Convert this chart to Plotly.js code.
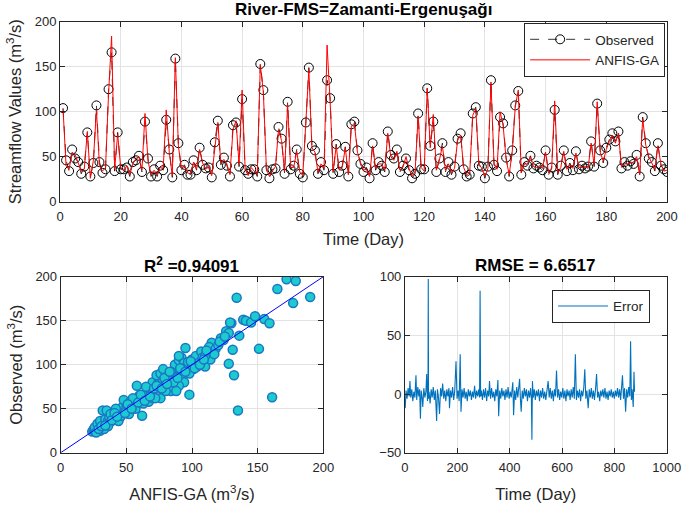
<!DOCTYPE html>
<html>
<head>
<meta charset="utf-8">
<script src="https://cdn.plot.ly/plotly-3.0.1.min.js"></script>
<style>html,body{margin:0;padding:0;background:#fff;}#chart{width:685px;height:506px;}</style>
</head>
<body>
<div id="chart"></div>
<script>
// ---- Top panel: first 200 days ----
const days = Array.from({length: 200}, (_, i) => i + 1);
const observed = [
104,46,34,58,48,44,31,39,77,28,
43,107,44,32,36,125,166,34,77,36,
36,38,28,44,46,51,33,89,48,28,
36,28,40,35,91,58,27,159,65,35,
41,30,30,46,35,60,41,37,38,27,
66,90,41,49,40,28,85,88,39,114,
35,31,36,36,28,153,124,35,26,36,
37,83,70,31,111,36,40,58,31,27,
88,149,62,57,31,44,35,135,115,31,
64,33,40,61,28,86,89,57,42,33,
38,26,65,35,44,40,33,78,52,48,
58,33,40,48,35,26,31,98,36,36,
126,62,89,33,48,65,33,44,30,39,
70,76,36,28,30,98,105,40,39,26,
39,135,41,34,94,87,49,28,57,107,
123,30,44,40,51,37,40,38,35,57,
30,38,102,30,40,57,34,43,35,56,
36,40,37,39,67,39,109,57,43,60,
69,76,67,78,37,44,40,45,42,52,
28,94,65,48,44,34,65,40,36,33];
const anfisGA = [
103,40,36,55,52,42,34,36,78,26,
46,102,40,34,38,120,184,36,75,38,
34,40,30,42,48,50,35,98,45,30,
35,30,38,37,102,55,29,160,62,37,
40,32,31,44,36,58,43,36,40,29,
62,88,43,47,42,30,80,90,41,124,
37,29,38,34,30,152,122,37,28,34,
39,80,68,33,108,38,38,56,33,29,
85,147,60,55,33,42,37,174,112,33,
62,35,38,60,30,84,87,55,44,35,
36,28,62,37,42,42,35,76,50,46,
56,35,38,50,37,28,33,95,38,34,
126,60,97,35,46,62,35,42,32,37,
68,74,38,30,32,96,103,42,37,28,
37,133,43,36,100,85,47,30,55,105,
124,32,42,42,50,39,38,40,37,55,
32,36,112,32,38,56,36,41,37,54,
38,38,39,37,65,41,111,55,45,58,
67,74,65,76,39,42,42,43,44,50,
30,92,63,50,42,36,62,42,34,35];

// ---- Bottom-left: scatter ANFIS-GA vs Observed ----
const scatterPred = [24,25,26,27,28,26,29,30,31,28,32,33,30,35,34,36,37,38,32,35,40,42,40,44,45,46,48,47,50,52,50,48,53,55,56,58,60,62,58,60,62,64,65,66,68,70,72,70,74,75,73,76,78,80,82,78,76,80,84,85,86,88,87,90,92,90,94,96,95,98,100,101,98,92,94,90,88,103,105,107,108,110,112,114,115,113,118,120,122,124,126,128,130,129,131,128,132,134,135,136,139,141,145,148,151,155,159,161,165,172,177,179,190,42,44,38,36,30,27,33,46,52,55,63,67,70,57,80,84,86,93,97,104,110,117,121,125,100,65,72,78,
 29,31,34,39,41,43,49,51,54,59,61,64,68,71,73,77,79,81,83,89,91,95,99,102,106,109,111];
const scatterObs  = [24,26,25,28,26,29,30,28,32,33,30,35,36,33,38,36,40,35,48,48,42,40,38,44,40,48,46,52,50,48,56,60,58,55,52,60,58,42,76,65,62,66,60,70,72,68,74,80,78,85,88,90,82,80,76,70,62,88,70,84,90,96,100,105,108,110,102,98,119,66,106,95,90,88,80,76,70,110,102,115,108,98,112,106,125,120,118,122,130,128,138,136,147,148,117,101,88,176,48,133,151,150,148,155,118,152,147,63,186,197,170,195,177,50,36,44,30,25,23,27,42,44,62,56,58,62,50,70,92,80,95,103,98,110,112,126,132,100,75,62,95,
 27,30,31,37,45,41,45,55,50,57,66,59,64,73,76,73,85,78,92,85,96,92,104,96,100,106,116];
const fitX = [0, 200];
const fitY = [0, 200];

// ---- Bottom-right: error series ----
const errDay = [
1,4,8,12,16,19,22,26,30,34,
38,42,45,49,53,56,59,62,66,68,
72,76,80,83,86,88,89,90,92,96,
100,104,108,112,116,121,124,128,132,136,
140,144,148,152,156,160,164,168,170,174,
178,182,186,190,195,199,203,207,211,214,
218,222,226,230,234,238,242,246,250,254,
258,262,266,270,274,278,282,285,287,289,
292,296,300,304,308,312,316,320,323,327,
331,335,339,343,347,351,355,358,362,366,
370,374,378,382,386,390,394,398,402,406,
410,412,415,419,423,427,431,435,438,441,
444,448,452,456,460,464,468,472,476,480,
483,485,487,490,494,498,502,506,510,514,
518,522,526,530,534,538,542,547,551,555,
559,563,567,571,575,579,583,587,591,595,
599,603,607,611,615,619,623,627,631,635,
639,643,647,651,655,659,663,667,671,675,
679,683,687,691,695,700,704,708,712,716,
720,724,728,732,736,740,744,748,752,756,
760,764,768,772,776,780,784,788,792,796,
800,804,808,812,816,820,824,828,831,835,
839,843,847,851,855,859,862,865,868,872,
875,877];
const errVal = [
-12,3,-4,5,-2,11,-3,4,-6,2,
-3,16,-5,6,-2,4,-21,3,-4,-11,
5,-3,2,17,-6,3,98,-4,2,-8,
4,-3,6,-5,3,-23,4,-3,-17,5,
-2,9,-4,3,-6,4,-2,5,-12,3,
-3,6,-5,2,28,-4,3,-6,34,-15,
4,-3,5,-4,2,-6,4,-2,3,-5,
2,-3,7,-4,3,-2,4,-3,88,-2,
3,-5,4,-3,5,-6,3,-2,11,-4,
5,-3,2,-6,4,-2,12,-19,3,-4,
5,-2,3,-5,4,-3,6,-4,2,-3,
4,10,-18,3,-5,6,-3,4,13,-4,
-15,3,-4,5,-2,4,-6,3,-3,5,
-4,-39,11,-3,4,-5,3,-2,4,-6,
3,-3,5,-4,2,-5,4,11,-3,5,
-4,3,-6,4,-2,20,-3,4,-5,2,
-3,5,-4,3,-6,4,-2,3,-5,4,
-3,6,-4,34,-5,3,-3,4,-6,3,
-2,5,21,-4,3,-12,4,-3,5,-4,
3,-5,4,17,-3,2,-6,3,-2,4,
-3,5,-4,2,-5,3,-2,4,-3,2,
-4,3,-2,5,-3,4,-5,6,16,-4,
5,-15,4,-3,6,-2,45,-5,4,-11,
19,2];

const FONT = 'Liberation Sans, Arial, sans-serif';
const AX = '#262626';
const GRID = '#e3e3e3';

function axisBase(extra) {
  return Object.assign({
    showline: true, linecolor: AX, linewidth: 1, mirror: 'ticks',
    ticks: 'inside', ticklen: 5, tickcolor: AX,
    showgrid: true, gridcolor: GRID, gridwidth: 1,
    zeroline: false, tickfont: {family: FONT, size: 13, color: AX},
    fixedrange: true
  }, extra);
}

const traces = [
  {x: days, y: observed, type: 'scatter', mode: 'lines+markers', name: 'Observed',
   line: {color: '#000000', width: 0.8, dash: 'dash'},
   marker: {symbol: 'circle-open', size: 9, color: '#000000', line: {width: 1}},
   xaxis: 'x', yaxis: 'y', legend: 'legend'},
  {x: days, y: anfisGA, type: 'scatter', mode: 'lines', name: 'ANFIS-GA',
   line: {color: '#ff0000', width: 1}, xaxis: 'x', yaxis: 'y', legend: 'legend'},
  {x: scatterPred, y: scatterObs, type: 'scatter', mode: 'markers', showlegend: false,
   marker: {size: 9, color: '#1ccbd0', line: {color: '#1a78c2', width: 1.5}},
   xaxis: 'x2', yaxis: 'y2'},
  {x: fitX, y: fitY, type: 'scatter', mode: 'lines', showlegend: false,
   line: {color: '#0000ff', width: 1}, xaxis: 'x2', yaxis: 'y2'},
  {x: errDay, y: errVal, type: 'scatter', mode: 'lines', name: 'Error',
   line: {color: '#0072bd', width: 1.1}, xaxis: 'x3', yaxis: 'y3', legend: 'legend2'}
];

const titleFont = {family: FONT, size: 16.5, color: AX};
const layout = {
  width: 685, height: 506,
  margin: {l: 0, r: 0, t: 0, b: 0},
  paper_bgcolor: '#ffffff', plot_bgcolor: '#ffffff',
  font: {family: FONT, color: AX},
  xaxis: axisBase({domain: [0.0876, 0.9737], anchor: 'y', range: [0, 200], dtick: 20,
    ticklabelstandoff: 3,
    title: {text: 'Time (Day)', font: titleFont, standoff: 10}}),
  yaxis: axisBase({domain: [0.6014, 0.9571], anchor: 'x', range: [0, 200], dtick: 50,
    title: {text: 'Streamflow Values (m<sup>3</sup>/s)', font: titleFont, standoff: 8}}),
  xaxis2: axisBase({domain: [0.0886, 0.472], anchor: 'y2', range: [0, 200], dtick: 50,
    ticklabelstandoff: 3,
    title: {text: 'ANFIS-GA (m<sup>3</sup>/s)', font: titleFont, standoff: 14}}),
  yaxis2: axisBase({domain: [0.1053, 0.4532], anchor: 'x2', range: [0, 200], dtick: 50,
    title: {text: 'Observed (m<sup>3</sup>/s)', font: titleFont, standoff: 8}}),
  xaxis3: axisBase({domain: [0.5912, 0.9733], anchor: 'y3', range: [0, 1000], dtick: 200,
    ticklabelstandoff: 3,
    title: {text: 'Time (Day)', font: titleFont, standoff: 14}}),
  yaxis3: axisBase({domain: [0.1053, 0.4532], anchor: 'x3', range: [-50, 100], dtick: 50}),
  legend: {x: 0.971, y: 0.9545, xanchor: 'right', yanchor: 'top',
    bgcolor: '#ffffff', bordercolor: AX, borderwidth: 1, itemwidth: 60,
    font: {family: FONT, size: 13.5, color: AX}, tracegroupgap: 0},
  legend2: {x: 0.949, y: 0.4275, xanchor: 'right', yanchor: 'top',
    bgcolor: '#ffffff', bordercolor: AX, borderwidth: 1, itemwidth: 50,
    font: {family: FONT, size: 13.5, color: AX}},
  annotations: [
    {text: '<b>River-FMS=Zamanti-Ergenuşağı</b>', x: 0.531, y: 0.982, xref: 'paper', yref: 'paper',
     xanchor: 'center', yanchor: 'middle', showarrow: false, font: {family: FONT, size: 17, color: '#000'}},
    {text: '<b>R<sup>2</sup> =0.94091</b>', x: 0.2795, y: 0.476, xref: 'paper', yref: 'paper',
     xanchor: 'center', yanchor: 'middle', showarrow: false, font: {family: FONT, size: 17, color: '#000'}},
    {text: '<b>RMSE = 6.6517</b>', x: 0.7823, y: 0.476, xref: 'paper', yref: 'paper',
     xanchor: 'center', yanchor: 'middle', showarrow: false, font: {family: FONT, size: 17, color: '#000'}}
  ],
  showlegend: true
};

Plotly.newPlot('chart', traces, layout, {staticPlot: true, displayModeBar: false});
</script>
</body>
</html>
